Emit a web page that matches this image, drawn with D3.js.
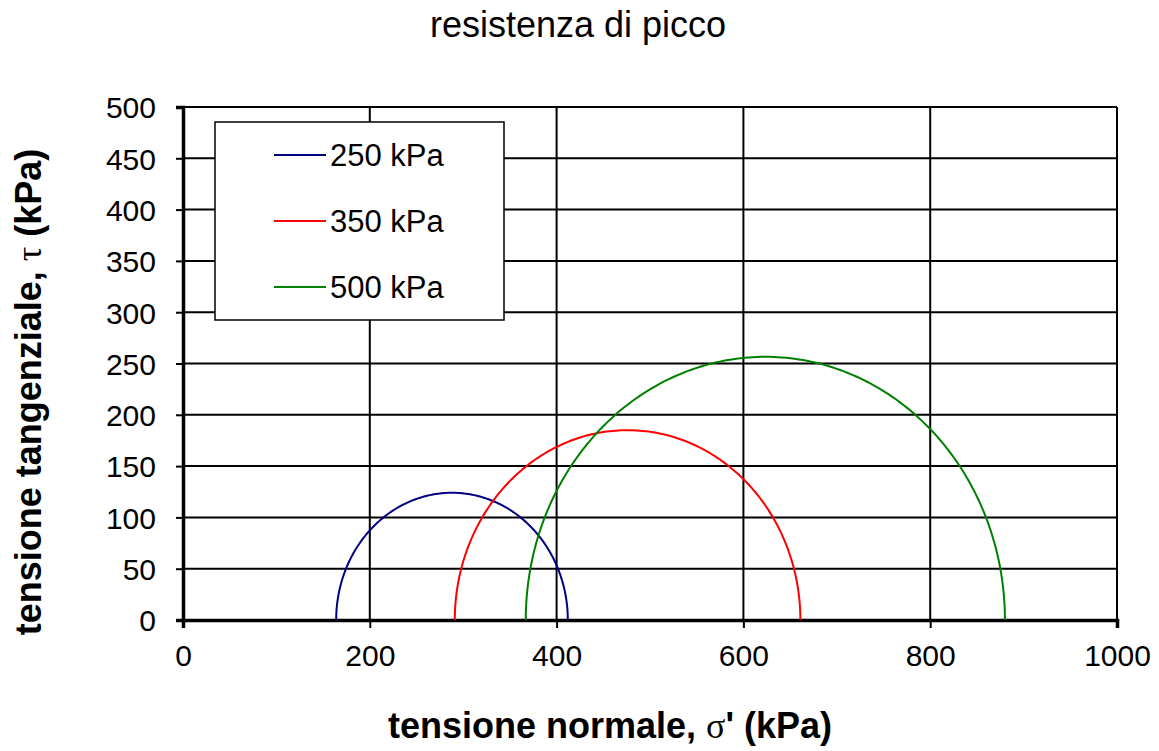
<!DOCTYPE html>
<html>
<head>
<meta charset="utf-8">
<script src="https://cdn.jsdelivr.net/npm/d3@7.9.0/dist/d3.min.js"></script>
<style>
  html, body { margin: 0; padding: 0; background: #fff; }
  svg { display: block; font-family: Arial, "Liberation Sans", sans-serif; }
</style>
</head>
<body>
<svg id="chart" width="1159" height="751"></svg>
<script>
// confining pressures and the principal stresses of each Mohr circle (kPa)
const seriesNames = ['250 kPa', '350 kPa', '500 kPa'];
const sigma3 = [164, 291, 367];
const sigma1 = [412, 661, 880];
const colors = ['#000080', '#ff0000', '#008000'];

const xTicks = [0, 200, 400, 600, 800, 1000];
const yTicks = [0, 50, 100, 150, 200, 250, 300, 350, 400, 450, 500];

const svg = d3.select('#chart');
const plotL = 183, plotR = 1117, plotT = 107, plotB = 620;

const x = d3.scaleLinear().domain([0, 1000]).range([plotL, plotR]);
const y = d3.scaleLinear().domain([0, 500]).range([plotB, plotT]);

// grid
svg.append('g')
  .selectAll('line')
  .data(yTicks)
  .join('line')
  .attr('x1', plotL).attr('x2', plotR)
  .attr('y1', d => y(d)).attr('y2', d => y(d))
  .attr('stroke', '#000').attr('stroke-width', 2);

svg.append('g')
  .selectAll('line')
  .data(xTicks)
  .join('line')
  .attr('x1', d => x(d)).attr('x2', d => x(d))
  .attr('y1', plotT).attr('y2', plotB)
  .attr('stroke', '#000').attr('stroke-width', 2);

// axes
const xAxis = svg.append('g')
  .attr('transform', `translate(0,${plotB})`)
  .call(d3.axisBottom(x).tickValues(xTicks).tickSize(8).tickPadding(17).tickFormat(d3.format('d')));
const yAxis = svg.append('g')
  .attr('transform', `translate(${plotL},0)`)
  .call(d3.axisLeft(y).tickValues(yTicks).tickSize(7).tickPadding(20).tickFormat(d3.format('d')));

[xAxis, yAxis].forEach(ax => {
  ax.select('.domain').attr('stroke-width', 3.5);
  ax.selectAll('.tick line').attr('stroke-width', 2);
  ax.selectAll('.tick text').attr('font-size', 30).attr('fill', '#000')
    .attr('font-family', 'Arial, "Liberation Sans", sans-serif');
});
yAxis.selectAll('.tick text').attr('dy', '0.36em');

// Mohr circles
const line = d3.line().x(d => x(d[0])).y(d => y(d[1]));
const angles = d3.range(0, 181, 1).map(a => a * Math.PI / 180);

seriesNames.forEach((name, i) => {
  const c = (sigma1[i] + sigma3[i]) / 2;
  const r = (sigma1[i] - sigma3[i]) / 2;
  const pts = angles.map(t => [c - r * Math.cos(t), r * Math.sin(t)]);
  svg.append('path')
    .attr('d', line(pts))
    .attr('fill', 'none')
    .attr('stroke', colors[i])
    .attr('stroke-width', 2);
});

// legend
const lg = svg.append('g');
lg.append('rect')
  .attr('x', 215).attr('y', 122).attr('width', 289).attr('height', 198)
  .attr('fill', '#fff').attr('stroke', '#000').attr('stroke-width', 1.5);
seriesNames.forEach((name, i) => {
  const ly = 155 + i * 66;
  lg.append('line')
    .attr('x1', 274).attr('x2', 326).attr('y1', ly).attr('y2', ly)
    .attr('stroke', colors[i]).attr('stroke-width', 2);
  lg.append('text')
    .attr('x', 330).attr('y', ly).attr('dy', '0.36em')
    .attr('font-size', 31).text(name);
});

// titles
svg.append('text')
  .attr('x', 578).attr('y', 37)
  .attr('text-anchor', 'middle').attr('font-size', 36)
  .text('resistenza di picco');

svg.append('text')
  .attr('x', 610).attr('y', 738)
  .attr('text-anchor', 'middle').attr('font-size', 36).attr('font-weight', 'bold')
  .html('tensione normale, <tspan font-family="serif" font-weight="normal">σ</tspan>\' (kPa)');

svg.append('text')
  .attr('transform', 'translate(41,392) rotate(-90)')
  .attr('text-anchor', 'middle').attr('font-size', 36).attr('font-weight', 'bold')
  .html('tensione tangenziale, <tspan font-family="serif" font-weight="normal">τ</tspan> (kPa)');
</script>
</body>
</html>
